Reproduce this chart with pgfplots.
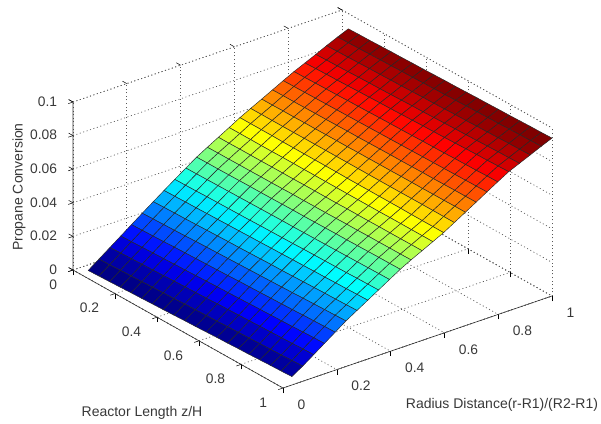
\documentclass[border=0pt]{standalone}
\usepackage{fontspec}
\setmainfont{Liberation Sans}
\usepackage{pgfplots}
\pgfplotsset{compat=1.18}

\definecolor{txt}{gray}{0.22}
\newcommand{\lab}{\fontsize{13.8}{15}\selectfont}
\newcommand{\tit}{\fontsize{14}{16}\selectfont}

\begin{document}
\begin{tikzpicture}
\useasboundingbox (0,0) rectangle (601pt,-423pt);
\begin{axis}[
  anchor=origin, at={(73pt,-270pt)},
  x={(210pt,-118pt)}, y={(269pt,92pt)}, z={(0pt,1680pt)},
  xmin=0, xmax=1, ymin=0, ymax=1, zmin=0, zmax=0.1,
  xtick={0,0.2,0.4,0.6,0.8,1}, xticklabels={0,0.2,0.4,0.6,0.8,1},
  ytick={0,0.2,0.4,0.6,0.8,1}, yticklabels={0,0.2,0.4,0.6,0.8,1},
  ztick={0,0.02,0.04,0.06,0.08,0.1}, zticklabels={0,0.02,0.04,0.06,0.08,0.1},
  grid=major,
  major grid style={draw=black!65, line width=0.7pt, dash pattern=on 1pt off 2.6pt},
  axis line style={draw=black!65, line width=0.7pt, dash pattern=on 1pt off 2.6pt},
  tick style={draw=black, solid, line width=0.5pt},
  tick align=outside, major tick length=5pt,
  tick pos=left,
  xticklabel style={font=\lab, text=txt, anchor=east, inner sep=0pt, shift={(-11pt,-13pt)}},
  yticklabel style={font=\lab, text=txt, anchor=west, inner sep=0pt, shift={(10pt,-14pt)}},
  zticklabel style={font=\lab, text=txt, anchor=east, inner sep=0pt, shift={(-11pt,2pt)}},
  xlabel={Reactor Length z/H}, ylabel={Radius Distance(r-R1)/(R2-R1)}, zlabel={Propane Conversion},
  xlabel style={font=\tit, text=txt, at={(axis cs:0.8776,-0.4287,0)}, anchor=center, rotate=0},
  ylabel style={font=\tit, text=txt, at={(axis cs:1.484,0.4362,0)}, anchor=center, rotate=0},
  zlabel style={font=\tit, text=txt, at={(axis cs:-0.5345,0.2166,0)}, anchor=center, rotate=0},
  colormap/jet,
  point meta min=0.004, point meta max=0.091,
  clip=false,
]
\addplot3[surf, shader=faceted, faceted color=black!85, line width=0.45pt, mesh/rows=25, mesh/cols=20] coordinates {
(.03,.033,0) (.081,.033,.0003) (.132,.033,.0005) (.183,.033,.0008) (.234,.033,.0011) (.285,.033,.0013) (.336,.033,.0016) (.387,.033,.0018) (.438,.033,.0021) (.489,.033,.0024) (.541,.033,.0026) (.592,.033,.0029) (.643,.033,.0032) (.694,.033,.0034) (.745,.033,.0037) (.796,.033,.0039) (.847,.033,.0042) (.898,.033,.0045) (.949,.033,.0047) (1,.033,.005)
(.03,.073,.0046) (.081,.073,.0048) (.132,.073,.0051) (.183,.073,.0053) (.234,.073,.0055) (.285,.073,.0058) (.336,.073,.0060) (.387,.073,.0062) (.438,.073,.0065) (.489,.073,.0067) (.541,.073,.0069) (.592,.073,.0071) (.643,.073,.0074) (.694,.073,.0076) (.745,.073,.0078) (.796,.073,.0081) (.847,.073,.0083) (.898,.073,.0085) (.949,.073,.0088) (1,.073,.0090)
(.03,.114,.0093) (.081,.114,.0095) (.132,.114,.0098) (.183,.114,.0100) (.234,.114,.0102) (.285,.114,.0104) (.336,.114,.0107) (.387,.114,.0109) (.438,.114,.0111) (.489,.114,.0113) (.541,.114,.0116) (.592,.114,.0118) (.643,.114,.0120) (.694,.114,.0122) (.745,.114,.0125) (.796,.114,.0127) (.847,.114,.0129) (.898,.114,.0131) (.949,.114,.0134) (1,.114,.0136)
(.03,.154,.0139) (.081,.154,.0141) (.132,.154,.0143) (.183,.154,.0146) (.234,.154,.0148) (.285,.154,.0150) (.336,.154,.0152) (.387,.154,.0154) (.438,.154,.0157) (.489,.154,.0159) (.541,.154,.0161) (.592,.154,.0163) (.643,.154,.0166) (.694,.154,.0168) (.745,.154,.0170) (.796,.154,.0172) (.847,.154,.0174) (.898,.154,.0177) (.949,.154,.0179) (1,.154,.0181)
(.03,.194,.0185) (.081,.194,.0187) (.132,.194,.0189) (.183,.194,.0191) (.234,.194,.0194) (.285,.194,.0196) (.336,.194,.0198) (.387,.194,.0200) (.438,.194,.0202) (.489,.194,.0204) (.541,.194,.0207) (.592,.194,.0209) (.643,.194,.0211) (.694,.194,.0213) (.745,.194,.0215) (.796,.194,.0217) (.847,.194,.0220) (.898,.194,.0222) (.949,.194,.0224) (1,.194,.0226)
(.03,.234,.0231) (.081,.234,.0233) (.132,.234,.0235) (.183,.234,.0237) (.234,.234,.0239) (.285,.234,.0242) (.336,.234,.0244) (.387,.234,.0246) (.438,.234,.0248) (.489,.234,.0250) (.541,.234,.0252) (.592,.234,.0254) (.643,.234,.0256) (.694,.234,.0258) (.745,.234,.0260) (.796,.234,.0263) (.847,.234,.0265) (.898,.234,.0267) (.949,.234,.0269) (1,.234,.0271)
(.03,.275,.0277) (.081,.275,.0279) (.132,.275,.0281) (.183,.275,.0282) (.234,.275,.0284) (.285,.275,.0286) (.336,.275,.0288) (.387,.275,.0290) (.438,.275,.0291) (.489,.275,.0293) (.541,.275,.0295) (.592,.275,.0297) (.643,.275,.0298) (.694,.275,.0300) (.745,.275,.0302) (.796,.275,.0304) (.847,.275,.0306) (.898,.275,.0307) (.949,.275,.0309) (1,.275,.0311)
(.03,.315,.0322) (.081,.315,.0323) (.132,.315,.0325) (.183,.315,.0326) (.234,.315,.0328) (.285,.315,.0329) (.336,.315,.0331) (.387,.315,.0332) (.438,.315,.0334) (.489,.315,.0335) (.541,.315,.0337) (.592,.315,.0338) (.643,.315,.0340) (.694,.315,.0341) (.745,.315,.0343) (.796,.315,.0344) (.847,.315,.0346) (.898,.315,.0347) (.949,.315,.0349) (1,.315,.0350)
(.03,.355,.0366) (.081,.355,.0367) (.132,.355,.0368) (.183,.355,.0370) (.234,.355,.0371) (.285,.355,.0372) (.336,.355,.0373) (.387,.355,.0374) (.438,.355,.0376) (.489,.355,.0377) (.541,.355,.0378) (.592,.355,.0379) (.643,.355,.0381) (.694,.355,.0382) (.745,.355,.0383) (.796,.355,.0384) (.847,.355,.0385) (.898,.355,.0387) (.949,.355,.0388) (1,.355,.0389)
(.03,.396,.0411) (.081,.396,.0412) (.132,.396,.0413) (.183,.396,.0414) (.234,.396,.0415) (.285,.396,.0416) (.336,.396,.0417) (.387,.396,.0418) (.438,.396,.0419) (.489,.396,.0420) (.541,.396,.0420) (.592,.396,.0421) (.643,.396,.0422) (.694,.396,.0423) (.745,.396,.0424) (.796,.396,.0425) (.847,.396,.0426) (.898,.396,.0427) (.949,.396,.0428) (1,.396,.0429)
(.03,.436,.0454) (.081,.436,.0455) (.132,.436,.0455) (.183,.436,.0456) (.234,.436,.0457) (.285,.436,.0458) (.336,.436,.0458) (.387,.436,.0459) (.438,.436,.0460) (.489,.436,.0461) (.541,.436,.0461) (.592,.436,.0462) (.643,.436,.0463) (.694,.436,.0464) (.745,.436,.0464) (.796,.436,.0465) (.847,.436,.0466) (.898,.436,.0467) (.949,.436,.0467) (1,.436,.0468)
(.03,.476,.0491) (.081,.476,.0492) (.132,.476,.0492) (.183,.476,.0493) (.234,.476,.0493) (.285,.476,.0494) (.336,.476,.0494) (.387,.476,.0495) (.438,.476,.0496) (.489,.476,.0496) (.541,.476,.0497) (.592,.476,.0497) (.643,.476,.0498) (.694,.476,.0499) (.745,.476,.0499) (.796,.476,.0500) (.847,.476,.0500) (.898,.476,.0501) (.949,.476,.0501) (1,.476,.0502)
(.03,.517,.0528) (.081,.517,.0528) (.132,.517,.0529) (.183,.517,.0529) (.234,.517,.0529) (.285,.517,.0530) (.336,.517,.0530) (.387,.517,.0530) (.438,.517,.0531) (.489,.517,.0531) (.541,.517,.0531) (.592,.517,.0531) (.643,.517,.0532) (.694,.517,.0532) (.745,.517,.0532) (.796,.517,.0533) (.847,.517,.0533) (.898,.517,.0533) (.949,.517,.0534) (1,.517,.0534)
(.03,.557,.0564) (.081,.557,.0564) (.132,.557,.0564) (.183,.557,.0564) (.234,.557,.0564) (.285,.557,.0565) (.336,.557,.0565) (.387,.557,.0565) (.438,.557,.0565) (.489,.557,.0565) (.541,.557,.0565) (.592,.557,.0565) (.643,.557,.0565) (.694,.557,.0565) (.745,.557,.0565) (.796,.557,.0566) (.847,.557,.0566) (.898,.557,.0566) (.949,.557,.0566) (1,.557,.0566)
(.03,.597,.0601) (.081,.597,.0601) (.132,.597,.0601) (.183,.597,.0601) (.234,.597,.0600) (.285,.597,.0600) (.336,.597,.0600) (.387,.597,.0600) (.438,.597,.0600) (.489,.597,.0600) (.541,.597,.0599) (.592,.597,.0599) (.643,.597,.0599) (.694,.597,.0599) (.745,.597,.0599) (.796,.597,.0599) (.847,.597,.0598) (.898,.597,.0598) (.949,.597,.0598) (1,.597,.0598)
(.03,.637,.0634) (.081,.637,.0634) (.132,.637,.0634) (.183,.637,.0634) (.234,.637,.0634) (.285,.637,.0635) (.336,.637,.0635) (.387,.637,.0635) (.438,.637,.0635) (.489,.637,.0635) (.541,.637,.0635) (.592,.637,.0635) (.643,.637,.0635) (.694,.637,.0635) (.745,.637,.0635) (.796,.637,.0636) (.847,.637,.0636) (.898,.637,.0636) (.949,.637,.0636) (1,.637,.0636)
(.03,.678,.0667) (.081,.678,.0667) (.132,.678,.0668) (.183,.678,.0668) (.234,.678,.0669) (.285,.678,.0669) (.336,.678,.0670) (.387,.678,.0670) (.438,.678,.0670) (.489,.678,.0671) (.541,.678,.0671) (.592,.678,.0672) (.643,.678,.0672) (.694,.678,.0673) (.745,.678,.0673) (.796,.678,.0673) (.847,.678,.0674) (.898,.678,.0674) (.949,.678,.0675) (1,.678,.0675)
(.03,.718,.0700) (.081,.718,.0701) (.132,.718,.0701) (.183,.718,.0702) (.234,.718,.0703) (.285,.718,.0703) (.336,.718,.0704) (.387,.718,.0705) (.438,.718,.0705) (.489,.718,.0706) (.541,.718,.0707) (.592,.718,.0708) (.643,.718,.0708) (.694,.718,.0709) (.745,.718,.0710) (.796,.718,.0710) (.847,.718,.0711) (.898,.718,.0712) (.949,.718,.0712) (1,.718,.0713)
(.03,.758,.0733) (.081,.758,.0734) (.132,.758,.0735) (.183,.758,.0736) (.234,.758,.0737) (.285,.758,.0738) (.336,.758,.0739) (.387,.758,.0740) (.438,.758,.0741) (.489,.758,.0742) (.541,.758,.0743) (.592,.758,.0744) (.643,.758,.0745) (.694,.758,.0746) (.745,.758,.0747) (.796,.758,.0748) (.847,.758,.0749) (.898,.758,.0750) (.949,.758,.0751) (1,.758,.0752)
(.03,.798,.0765) (.081,.798,.0766) (.132,.798,.0768) (.183,.798,.0769) (.234,.798,.0770) (.285,.798,.0772) (.336,.798,.0773) (.387,.798,.0774) (.438,.798,.0776) (.489,.798,.0777) (.541,.798,.0778) (.592,.798,.0779) (.643,.798,.0781) (.694,.798,.0782) (.745,.798,.0783) (.796,.798,.0785) (.847,.798,.0786) (.898,.798,.0787) (.949,.798,.0789) (1,.798,.0790)
(.03,.839,.0794) (.081,.839,.0796) (.132,.839,.0798) (.183,.839,.0799) (.234,.839,.0801) (.285,.839,.0803) (.336,.839,.0805) (.387,.839,.0807) (.438,.839,.0808) (.489,.839,.0810) (.541,.839,.0812) (.592,.839,.0814) (.643,.839,.0815) (.694,.839,.0817) (.745,.839,.0819) (.796,.839,.0821) (.847,.839,.0823) (.898,.839,.0824) (.949,.839,.0826) (1,.839,.0828)
(.03,.879,.0823) (.081,.879,.0825) (.132,.879,.0826) (.183,.879,.0828) (.234,.879,.0830) (.285,.879,.0832) (.336,.879,.0833) (.387,.879,.0835) (.438,.879,.0837) (.489,.879,.0839) (.541,.879,.0840) (.592,.879,.0842) (.643,.879,.0844) (.694,.879,.0846) (.745,.879,.0847) (.796,.879,.0849) (.847,.879,.0851) (.898,.879,.0853) (.949,.879,.0854) (1,.879,.0856)
(.03,.919,.0853) (.081,.919,.0855) (.132,.919,.0856) (.183,.919,.0858) (.234,.919,.0860) (.285,.919,.0861) (.336,.919,.0863) (.387,.919,.0864) (.438,.919,.0866) (.489,.919,.0868) (.541,.919,.0869) (.592,.919,.0871) (.643,.919,.0873) (.694,.919,.0874) (.745,.919,.0876) (.796,.919,.0877) (.847,.919,.0879) (.898,.919,.0881) (.949,.919,.0882) (1,.919,.0884)
(.03,.96,.0882) (.081,.96,.0884) (.132,.96,.0885) (.183,.96,.0887) (.234,.96,.0889) (.285,.96,.0890) (.336,.96,.0892) (.387,.96,.0893) (.438,.96,.0895) (.489,.96,.0897) (.541,.96,.0898) (.592,.96,.0900) (.643,.96,.0902) (.694,.96,.0903) (.745,.96,.0905) (.796,.96,.0906) (.847,.96,.0908) (.898,.96,.0910) (.949,.96,.0911) (1,.96,.0913)
(.03,1,.0909) (.081,1,.0911) (.132,1,.0912) (.183,1,.0914) (.234,1,.0916) (.285,1,.0917) (.336,1,.0919) (.387,1,.0920) (.438,1,.0922) (.489,1,.0924) (.541,1,.0925) (.592,1,.0927) (.643,1,.0929) (.694,1,.0930) (.745,1,.0932) (.796,1,.0933) (.847,1,.0935) (.898,1,.0937) (.949,1,.0938) (1,1,.0940)
};
% the three axes with ticks are solid, the rest of the box stays dotted
\draw[black!80, line width=0.6pt] (axis cs:0,0,0.1) -- (axis cs:0,0,0) -- (axis cs:1,0,0) -- (axis cs:1,1,0);
\end{axis}
\end{tikzpicture}
\end{document}
